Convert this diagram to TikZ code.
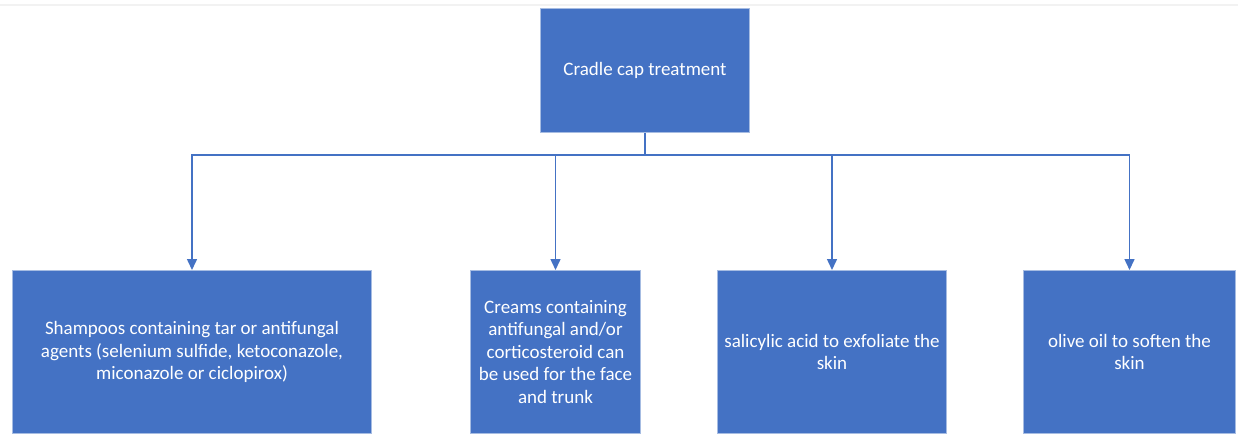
\documentclass[tikz,border=0pt]{standalone}
\usepackage{fontspec}
\setmainfont{Carlito}
\usetikzlibrary{arrows.meta,calc}
\definecolor{boxblue}{HTML}{4472C4}
\definecolor{boxedge}{HTML}{A6BCE2}
\begin{document}
\begin{tikzpicture}[x=1pt,y=-1pt,
  blockbox/.style={rectangle, fill=boxblue, draw=boxedge, line width=1pt, text=white,
    align=center, font=\fontsize{19}{22.5}\selectfont, inner sep=0pt, anchor=north west},
  link/.style={draw=boxblue, line width=1.5pt, -{Triangle[width=10pt,length=11pt]}}]
\useasboundingbox[fill=white] (0,0) rectangle (1238,434);
\draw[gray!10, line width=2pt] (0,5) -- (1238,5);
\node[blockbox, minimum width=209pt, minimum height=124pt] (top) at (540,8) {Cradle cap treatment};
\node[blockbox, minimum width=359pt, minimum height=163pt] (b1) at (12,270)
  {Shampoos containing tar or antifungal\\agents (selenium sulfide, ketoconazole,\\miconazole or ciclopirox)};
\node[blockbox, minimum width=170pt, minimum height=163pt] (b2) at (470,270)
  {Creams containing\\antifungal and/or\\corticosteroid can\\be used for the face\\and trunk};
\node[blockbox, minimum width=229pt, minimum height=163pt] (b3) at (717,270)
  {salicylic acid to exfoliate the\\skin};
\node[blockbox, minimum width=212pt, minimum height=163pt] (b4) at (1023,270)
  {olive oil to soften the\\skin};
\coordinate (bus) at ($(top.south)+(0,22)$);
\foreach \c in {b1,b2,b3,b4}{
  \draw[link] (top.south) -- (bus) -| (\c.north);
}
\end{tikzpicture}
\end{document}
